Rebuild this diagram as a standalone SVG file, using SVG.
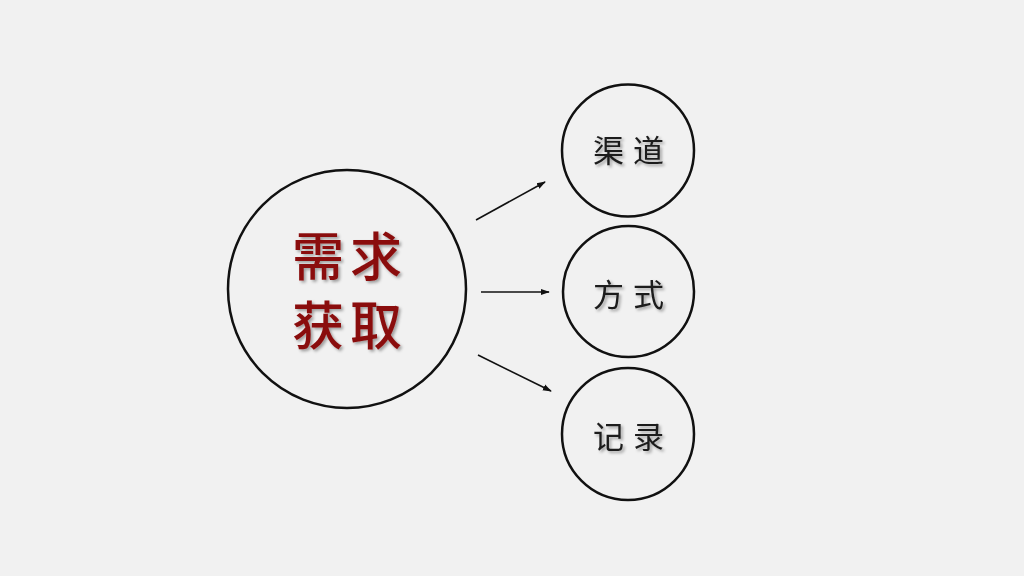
<svg xmlns="http://www.w3.org/2000/svg" width="1024" height="576" viewBox="0 0 1024 576">
<defs>
<style>
.node{fill:none;stroke:#111;stroke-width:2.5}
.conn{stroke:#111;stroke-width:1.6;fill:none;marker-end:url(#ah)}
.main{font-family:"Noto Sans CJK SC",sans-serif;font-size:52px;font-weight:500;fill:#8a0d0d;text-anchor:middle;dominant-baseline:central;letter-spacing:6px;filter:url(#sh)}
.sub{font-family:"Noto Sans CJK SC",sans-serif;font-size:31px;fill:#1a1a1a;text-anchor:middle;dominant-baseline:central;letter-spacing:9px;filter:url(#sh)}
</style>
<marker id="ah" viewBox="0 0 10 10" refX="9" refY="5" markerWidth="9" markerHeight="9" orient="auto" markerUnits="userSpaceOnUse"><path d="M0,1.5 L10,5 L0,8.5 Z" fill="#111"/></marker>
<filter id="sh" x="-20%" y="-20%" width="140%" height="140%"><feDropShadow dx="2" dy="2" stdDeviation="1.5" flood-color="#000" flood-opacity="0.35"/></filter>
</defs>
<rect width="1024" height="576" fill="#f1f1f1"/>
<g id="connectors">
<line class="conn" x1="476" y1="220" x2="545" y2="182"/>
<line class="conn" x1="481" y1="292" x2="549" y2="292"/>
<line class="conn" x1="478" y1="355" x2="551" y2="391"/>
</g>
<g id="node-main">
<circle class="node" cx="347" cy="289" r="119"/>
<text class="main" x="350" y="253">需求</text>
<text class="main" x="350" y="322">获取</text>
</g>
<g id="node-qudao">
<circle class="node" cx="628" cy="150.5" r="66"/>
<text class="sub" x="633" y="148">渠道</text>
</g>
<g id="node-fangshi">
<circle class="node" cx="628.5" cy="291.5" r="65.5"/>
<text class="sub" x="633" y="292">方式</text>
</g>
<g id="node-jilu">
<circle class="node" cx="628" cy="434" r="66"/>
<text class="sub" x="633" y="434">记录</text>
</g>
</svg>
